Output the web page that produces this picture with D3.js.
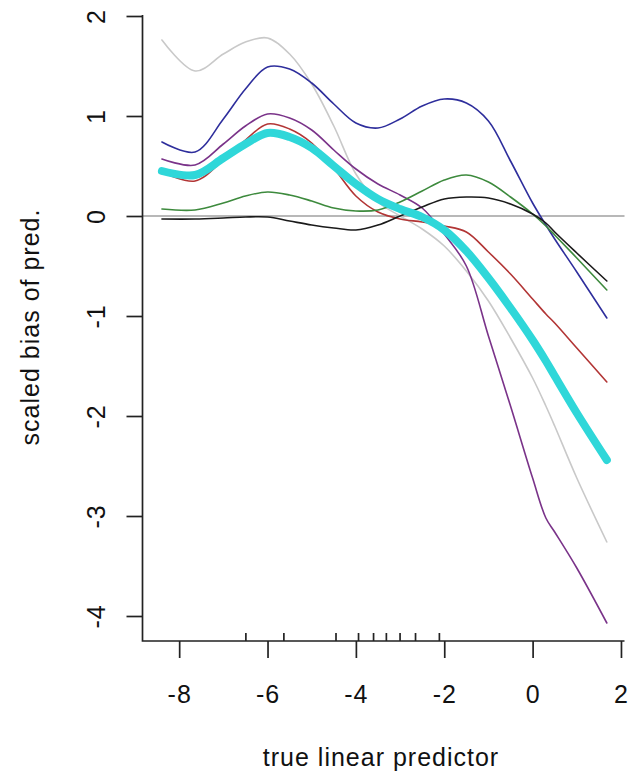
<!DOCTYPE html>
<html>
<head>
<meta charset="utf-8">
<script src="https://cdn.jsdelivr.net/npm/d3@7"></script>
<style>
  html, body { margin: 0; padding: 0; background: #fff; }
  svg { display: block; }
  text { font-family: "Liberation Sans", Arial, sans-serif; fill: #111; }
</style>
</head>
<body>
<svg id="chart" width="629" height="776"></svg>
<script>
// ---- data ----
const xGrid = [-8.39, -7.64, -7.0, -6.5, -6.0, -5.5, -5.0, -4.5, -4.0, -3.5, -3.0, -2.5, -2.0, -1.5, -1.0, -0.5, 0.0, 0.3, 0.5, 1.0, 1.68];
const grayY   = [1.76, 1.45, 1.62, 1.74, 1.78, 1.62, 1.32, 0.90, 0.42, 0.14, 0.00, -0.13, -0.30, -0.55, -0.85, -1.22, -1.62, -1.90, -2.10, -2.62, -3.26];
const blueY   = [0.74, 0.64, 0.97, 1.27, 1.49, 1.47, 1.33, 1.12, 0.93, 0.88, 0.97, 1.10, 1.17, 1.13, 0.95, 0.55, 0.13, -0.09, -0.23, -0.56, -1.02];
const purpleY = [0.57, 0.51, 0.72, 0.90, 1.02, 0.98, 0.86, 0.66, 0.47, 0.32, 0.21, 0.08, -0.18, -0.50, -1.20, -1.90, -2.62, -3.02, -3.16, -3.52, -4.07];
const redY    = [0.44, 0.35, 0.56, 0.76, 0.92, 0.87, 0.73, 0.48, 0.20, 0.04, -0.03, -0.06, -0.10, -0.16, -0.36, -0.58, -0.83, -0.98, -1.07, -1.32, -1.66];
const greenY  = [0.07, 0.06, 0.13, 0.20, 0.24, 0.21, 0.15, 0.08, 0.05, 0.06, 0.14, 0.25, 0.36, 0.41, 0.34, 0.19, 0.02, -0.10, -0.19, -0.42, -0.74];
const blackY  = [-0.03, -0.03, -0.02, -0.01, -0.01, -0.05, -0.09, -0.12, -0.14, -0.09, 0.00, 0.09, 0.17, 0.19, 0.18, 0.12, 0.02, -0.07, -0.16, -0.37, -0.65];
const cyanY   = [0.45, 0.41, 0.58, 0.72, 0.83, 0.79, 0.68, 0.50, 0.32, 0.17, 0.07, -0.01, -0.14, -0.35, -0.62, -0.92, -1.24, -1.45, -1.60, -1.97, -2.44];
const rugX    = [-6.49, -5.63, -4.45, -3.94, -3.60, -3.31, -3.00, -2.65, -2.11];
const xTicks  = [-8, -6, -4, -2, 0, 2];
const yTicks  = [2, 1, 0, -1, -2, -3, -4];
const xTitle  = "true linear predictor";
const yTitle  = "scaled bias of pred.";

const seriesList = [
  { name: "gray",   y: grayY,   color: "#c9c9c9", width: 1.6 },
  { name: "blue",   y: blueY,   color: "#2e2e9c", width: 1.6 },
  { name: "purple", y: purpleY, color: "#7a3389", width: 1.6 },
  { name: "red",    y: redY,    color: "#b23535", width: 1.6 },
  { name: "green",  y: greenY,  color: "#3d8a3d", width: 1.6 },
  { name: "black",  y: blackY,  color: "#1a1a1a", width: 1.6 },
  { name: "cyan",   y: cyanY,   color: "#2fd7d9", width: 8 }
];

// ---- layout ----
const svg = d3.select("#chart");
const x = d3.scaleLinear().domain([-8.83, 2.08]).range([142.5, 624.5]);
const y = d3.scaleLinear().domain([-4.25, 2.01]).range([641, 15]);

// zero reference line
svg.append("line")
  .attr("x1", x.range()[0]).attr("x2", x.range()[1])
  .attr("y1", y(0)).attr("y2", y(0))
  .attr("stroke", "#a0a0a0").attr("stroke-width", 1.6);

const line = d3.line().curve(d3.curveCatmullRom.alpha(0.5))
  .x(d => x(d[0])).y(d => y(d[1]));

seriesList.forEach(s => {
  const pts = xGrid.map((xv, i) => [xv, s.y[i]]);
  svg.append("path")
    .attr("d", line(pts))
    .attr("fill", "none")
    .attr("stroke", s.color)
    .attr("stroke-width", s.width)
    .attr("stroke-linecap", "round")
    .attr("stroke-linejoin", "round");
});

// axes (L-shaped box)
const axisColor = "#222";
svg.append("path")
  .attr("d", `M${x.range()[0]},${y.range()[1]} V${y.range()[0]} H${x.range()[1]}`)
  .attr("fill", "none").attr("stroke", axisColor).attr("stroke-width", 1.7);

const xAxis = d3.axisBottom(x).tickValues(xTicks).tickSize(17).tickPadding(8).tickFormat(d3.format("d"));
const gx = svg.append("g").attr("transform", `translate(0,${y.range()[0]})`).call(xAxis);
gx.select(".domain").remove();
gx.selectAll(".tick line").attr("stroke", axisColor).attr("stroke-width", 1.7);
gx.selectAll(".tick text")
  .attr("y", 0).attr("dy", 0)
  .attr("transform", "translate(0,62)")
  .style("font-size", "25px").style("letter-spacing", "1px")
  .attr("fill", "#111")
  .text(d => d < 0 ? "-" + Math.abs(d) : String(d));

const yAxis = d3.axisLeft(y).tickValues(yTicks).tickSize(16).tickFormat(d3.format("d"));
const gy = svg.append("g").attr("transform", `translate(${x.range()[0]},0)`).call(yAxis);
gy.select(".domain").remove();
gy.selectAll(".tick line").attr("stroke", axisColor).attr("stroke-width", 1.7);
gy.selectAll(".tick text")
  .attr("x", 0)
  .attr("transform", "translate(-47,0) rotate(-90)")
  .attr("text-anchor", "middle")
  .attr("dy", "0.36em")
  .style("font-size", "25px").style("letter-spacing", "1px")
  .attr("fill", "#111")
  .text(d => d < 0 ? "-" + Math.abs(d) : String(d));

// rug
svg.append("g").selectAll("line").data(rugX).join("line")
  .attr("x1", d => x(d)).attr("x2", d => x(d))
  .attr("y1", y.range()[0]).attr("y2", y.range()[0] - 8)
  .attr("stroke", axisColor).attr("stroke-width", 1.7);

// titles
svg.append("text")
  .attr("x", 381).attr("y", 766)
  .attr("text-anchor", "middle")
  .style("font-size", "25px").style("letter-spacing", "1px")
  .text(xTitle);

svg.append("text")
  .attr("transform", "translate(39,327) rotate(-90)")
  .attr("text-anchor", "middle")
  .style("font-size", "25px").style("letter-spacing", "1px")
  .text(yTitle);
</script>
</body>
</html>
